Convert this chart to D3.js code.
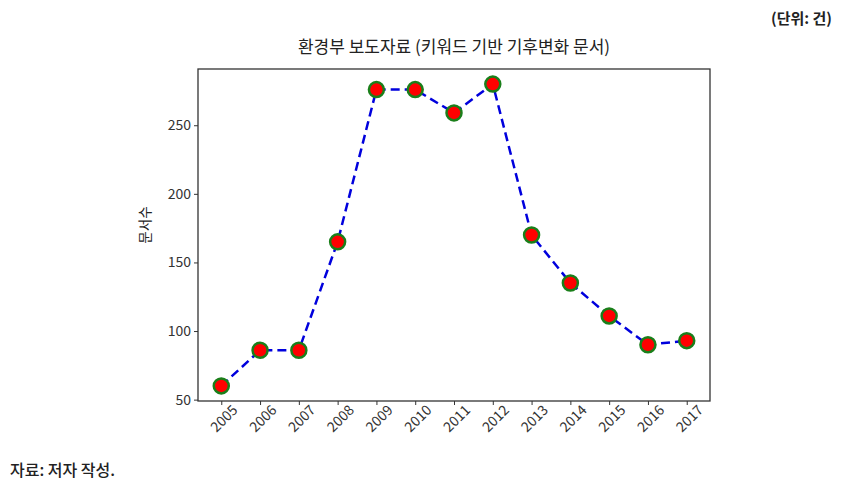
<!DOCTYPE html>
<html>
<head>
<meta charset="utf-8">
<script src="https://cdn.jsdelivr.net/npm/d3@7"></script>
<style>
  body { margin: 0; background: #fff; }
  svg text { font-family: "Noto Sans CJK KR", "Noto Sans", sans-serif; fill: #222; }
  .axis path, .axis line { stroke: #333; }
  .axis text { font-size: 14px; fill: #333; }
</style>
</head>
<body>
<div id="chart"></div>
<script>
// 연도별 문서 수
const years = [2005, 2006, 2007, 2008, 2009, 2010, 2011, 2012, 2013, 2014, 2015, 2016, 2017];
const counts = [60, 86, 86, 165, 276, 276, 259, 280, 170, 135, 111, 90, 93];
const yTicks = [50, 100, 150, 200, 250];

const fullW = 844;
const fullH = 491;
const margin = { top: 69, right: 134, bottom: 90, left: 198 };
const width = fullW - margin.left - margin.right;
const height = fullH - margin.top - margin.bottom;

const svg = d3.select('#chart')
  .append('svg')
  .attr('width', fullW)
  .attr('height', fullH);

const g = svg.append('g')
  .attr('transform', `translate(${margin.left},${margin.top})`);

const xScale = d3.scaleLinear().domain([2004.4, 2017.6]).range([0, width]);
const yScale = d3.scaleLinear().domain([49, 291]).range([height, 0]);

// frame
g.append('rect')
  .attr('width', width)
  .attr('height', height)
  .attr('fill', 'none')
  .attr('stroke', '#333')
  .attr('stroke-width', 1.3);

const xAxis = g.append('g')
  .attr('class', 'axis')
  .attr('transform', `translate(0,${height})`)
  .call(d3.axisBottom(xScale).tickValues(years).tickFormat(d3.format('d')).tickSize(4).tickSizeOuter(0));
xAxis.select('.domain').remove();
xAxis.selectAll('text')
  .attr('text-anchor', 'end')
  .attr('dx', '0.35em')
  .attr('dy', '0.85em')
  .attr('transform', 'rotate(-45)');

const yAxis = g.append('g')
  .attr('class', 'axis')
  .call(d3.axisLeft(yScale).tickValues(yTicks).tickSize(4).tickSizeOuter(0));
yAxis.select('.domain').remove();

// y-axis label
g.append('text')
  .attr('transform', 'rotate(-90)')
  .attr('x', -height / 2 + 10)
  .attr('y', -48)
  .style('text-anchor', 'middle')
  .style('font-size', '13.5px')
  .text('문서수');

// title
g.append('text')
  .attr('x', width / 2)
  .attr('y', -16)
  .style('text-anchor', 'middle')
  .style('font-size', '17px')
  .text('환경부 보도자료 (키워드 기반 기후변화 문서)');

const data = years.map((y, i) => ({ year: y, value: counts[i] }));

const line = d3.line()
  .x(d => xScale(d.year))
  .y(d => yScale(d.value));

g.append('path')
  .datum(data)
  .attr('d', line)
  .attr('fill', 'none')
  .attr('stroke', '#0000dd')
  .attr('stroke-width', 2.5)
  .attr('stroke-dasharray', '9,5');

g.selectAll('.dot')
  .data(data)
  .enter()
  .append('circle')
  .attr('class', 'dot')
  .attr('cx', d => xScale(d.year))
  .attr('cy', d => yScale(d.value))
  .attr('r', 7.5)
  .attr('fill', '#ff0000')
  .attr('stroke', '#1a7f1a')
  .attr('stroke-width', 2.5);

// unit note & source
svg.append('text')
  .attr('x', 832)
  .attr('y', 24)
  .style('text-anchor', 'end')
  .style('font-size', '15px')
  .style('font-weight', 'bold')
  .text('(단위: 건)');

svg.append('text')
  .attr('x', 10)
  .attr('y', 476)
  .style('font-size', '16px')
  .style('font-weight', '500')
  .text('자료: 저자 작성.');
</script>
</body>
</html>
